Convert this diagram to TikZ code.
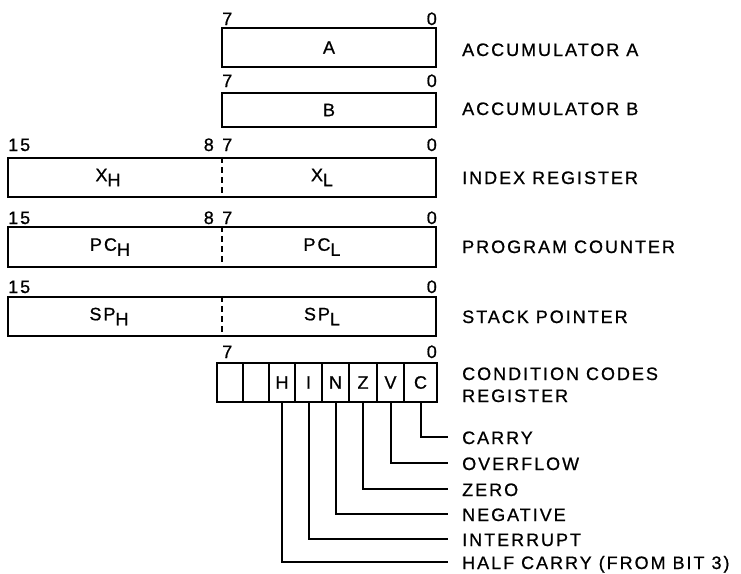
\documentclass[tikz,border=0pt]{standalone}
\usepackage{fontspec}
\setmainfont{Liberation Sans}[LetterSpace=11, FakeBold=0.8]
\usetikzlibrary{positioning}
\tikzset{
	regbox/.style  ={rectangle, draw=black, line width=2.2pt, inner sep=0pt, minimum height=39pt},
	ccbit/.style   ={rectangle, draw=black, line width=2.2pt, inner sep=0pt, minimum height=39pt},
	bitnum/.style  ={inner sep=0pt},
	regname/.style ={anchor=base west, inner sep=0pt},
	flagline/.style={line width=2pt},
	halfline/.style={line width=1.5pt, dash pattern=on 6pt off 4pt},
}
\newcommand{\lowsub}[1]{\raisebox{-5pt}{#1}}

\begin{document}
\begin{tikzpicture}[x=1pt, y=-1pt, font=\fontsize{18}{21}\selectfont]
	\useasboundingbox (0,0) rectangle (741,573);
	% accumulators
	\node[regbox, minimum width=214pt] (rA) at (329,47.5) {A};
	\node[bitnum, anchor=base west] (nA7) at (222,25) {7};
	\node[bitnum, anchor=base east] (nA0) at (437,25) {0};
	\node[regname] (lA) at (462,56) {ACCUMULATOR A};
	\node[regbox, minimum width=214pt, minimum height=34pt] (rB) at (329,110) {B};
	\node[bitnum, anchor=base west] (nB7) at (222,87) {7};
	\node[bitnum, anchor=base east] (nB0) at (437,87) {0};
	\node[regname] (lB) at (462,115) {ACCUMULATOR B};
	% 16 bit registers
	\node[regbox, minimum width=428pt] (rX) at (222,177.5) {};
	\draw[halfline] (rX.north) -- (rX.south);
	\node (xh) at (108,177.5) {X\lowsub{H}};
	\node (xl) at (322,177.5) {X\lowsub{L}};
	\node[bitnum, anchor=base west] (nX15) at (8,151) {15};
	\node[bitnum, anchor=base east] (nX8) at (214,151) {8};
	\node[bitnum, anchor=base west] (nX7) at (222,151) {7};
	\node[bitnum, anchor=base east] (nX0) at (437,151) {0};
	\node[regname] (lX) at (462,184) {INDEX REGISTER};
	\node[regbox, minimum width=428pt, minimum height=40pt] (rPC) at (222,247) {};
	\draw[halfline] (rPC.north) -- (rPC.south);
	\node (pch) at (110,247) {PC\lowsub{H}};
	\node (pcl) at (322,247) {PC\lowsub{L}};
	\node[bitnum, anchor=base west] (nPC15) at (8,224) {15};
	\node[bitnum, anchor=base east] (nPC8) at (214,224) {8};
	\node[bitnum, anchor=base west] (nPC7) at (222,224) {7};
	\node[bitnum, anchor=base east] (nPC0) at (437,224) {0};
	\node[regname] (lPC) at (462,253) {PROGRAM COUNTER};
	\node[regbox, minimum width=428pt] (rSP) at (222,316.5) {};
	\draw[halfline] (rSP.north) -- (rSP.south);
	\node (sph) at (109,316.5) {SP\lowsub{H}};
	\node (spl) at (322,316.5) {SP\lowsub{L}};
	\node[bitnum, anchor=base west] (nSP15) at (8,293) {15};
	\node[bitnum, anchor=base east] (nSP0) at (437,293) {0};
	\node[regname] (lSP) at (462,323) {STACK POINTER};
	% condition codes
	\foreach \l/\r/\t/\n in {217/243/{}/b7, 243/269/{}/b6, 269/295/H/b5, 295/322/I/b4,
		322/349/N/b3, 349/377/Z/b2, 377/404/V/b1, 404/437/C/b0}
		\node[ccbit, minimum width={(\r-\l)*1pt}] (\n) at ({(\l+\r)/2},382.5) {\t};
	\node[bitnum, anchor=base west] (nCC7) at (222,358) {7};
	\node[bitnum, anchor=base east] (nCC0) at (437,358) {0};
	\node[regname] (lCC) at (462,380) {CONDITION CODES};
	\node[regname] (lCC2) at (462,402) {REGISTER};
	% flags
	\foreach \n/\y/\t in {0/437/CARRY, 1/463/OVERFLOW, 2/489/ZERO, 3/514/NEGATIVE,
		4/539/INTERRUPT, 5/562/HALF CARRY (FROM BIT 3)}{
		\coordinate (e\n) at (448,\y);
		\node[regname] (f\n) at (462,\y+7) {\t};
		\draw[flagline] (b\n.south) |- (e\n);
	}
\end{tikzpicture}
\end{document}
